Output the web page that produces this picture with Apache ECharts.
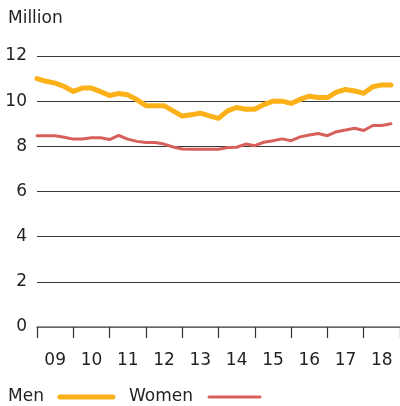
<!DOCTYPE html>
<html>
<head>
<meta charset="utf-8">
<script src="https://cdn.jsdelivr.net/npm/echarts@6/dist/echarts.min.js"></script>
<style>
  html, body { margin: 0; padding: 0; background: #fff; }
  #chart { width: 400px; height: 406px; }
</style>
</head>
<body>
<div id="chart"></div>
<script>
// Quarterly figures, 2009 Q1 – 2018 Q4, in millions
const yearLabels = ['09', '10', '11', '12', '13', '14', '15', '16', '17', '18'];
const firstYear = 2009;
const men = [
  11.0, 10.88, 10.8, 10.65, 10.43, 10.58, 10.58, 10.42, 10.25, 10.34,
  10.28, 10.07, 9.8, 9.8, 9.8, 9.57, 9.34, 9.4, 9.47, 9.35,
  9.24, 9.57, 9.72, 9.64, 9.64, 9.85, 10.0, 10.0, 9.9, 10.08,
  10.22, 10.16, 10.16, 10.4, 10.52, 10.45, 10.35, 10.64, 10.72, 10.72
];
const women = [
  8.47, 8.47, 8.47, 8.4, 8.32, 8.32, 8.38, 8.38, 8.3, 8.48,
  8.32, 8.22, 8.17, 8.17, 8.1, 7.97, 7.88, 7.87, 7.87, 7.87,
  7.87, 7.95, 7.96, 8.1, 8.03, 8.18, 8.25, 8.33, 8.25, 8.42,
  8.5, 8.57, 8.47, 8.65, 8.72, 8.8, 8.7, 8.92, 8.92, 9.0
];
const yTicks = { min: 0, max: 12, step: 2 };

const FONT = 'DejaVu Sans';
const TEXT = '#231f20';
const MEN_COLOR = '#fbb117';
const WOMEN_COLOR = '#d8605a';

// each quarter sits at the start of its quarter on a continuous year scale
const toPoints = arr => arr.map((v, i) => [firstYear + i / 4, v]);

// one legend per series so each key line keeps its own weight and spot
function legendFor(name, left, width, lineWidth, gapRight) {
  return {
    left: left, top: 387, padding: 0,
    align: 'right',
    itemWidth: width, itemHeight: 20,
    itemStyle: { opacity: 0 },
    lineStyle: { width: lineWidth, cap: 'round' },
    textStyle: { fontFamily: FONT, fontSize: 17, color: TEXT, lineHeight: 20, padding: [0, gapRight, 0, 0] },
    data: [name]
  };
}

const chart = echarts.init(document.getElementById('chart'), null, { renderer: 'canvas' });
chart.setOption({
  animation: false,
  textStyle: { fontFamily: FONT, color: TEXT },
  title: {
    text: 'Million',
    left: 3, top: 5,
    textStyle: { fontFamily: FONT, fontSize: 17, fontWeight: 'normal', color: TEXT }
  },
  legend: [
    legendFor('Men', 8, 53, 5, 11),
    legendFor('Women', 129, 51, 3, 11)
  ],
  grid: { left: 37, top: 56, width: 370, bottom: 79, containLabel: false },
  xAxis: [
    {
      type: 'value',
      min: firstYear, max: firstYear + yearLabels.length, interval: 1,
      axisLine: { show: true, lineStyle: { color: '#777', width: 1.5 } },
      axisTick: { show: true, length: 11, lineStyle: { color: '#333', width: 1.2 } },
      axisLabel: { show: false },
      splitLine: { show: false }
    },
    {
      type: 'category',
      position: 'bottom',
      data: yearLabels,
      boundaryGap: true,
      axisLine: { show: false },
      axisTick: { show: false },
      axisLabel: { margin: 25, fontFamily: FONT, fontSize: 17, color: TEXT },
      splitLine: { show: false }
    }
  ],
  yAxis: {
    type: 'value',
    min: yTicks.min, max: yTicks.max, interval: yTicks.step,
    axisLine: { show: false },
    axisTick: { show: false },
    axisLabel: { margin: 10, fontFamily: FONT, fontSize: 17, color: TEXT },
    splitLine: { lineStyle: { color: '#3a3a3a', width: 1 } }
  },
  series: [
    {
      name: 'Men', type: 'line', xAxisIndex: 0,
      data: toPoints(men),
      symbol: 'none',
      itemStyle: { color: MEN_COLOR },
      lineStyle: { color: MEN_COLOR, width: 5, cap: 'round', join: 'round' },
      z: 3
    },
    {
      name: 'Women', type: 'line', xAxisIndex: 0,
      data: toPoints(women),
      symbol: 'none',
      itemStyle: { color: WOMEN_COLOR },
      lineStyle: { color: WOMEN_COLOR, width: 3, cap: 'round', join: 'round' },
      z: 2
    }
  ]
});
</script>
</body>
</html>
